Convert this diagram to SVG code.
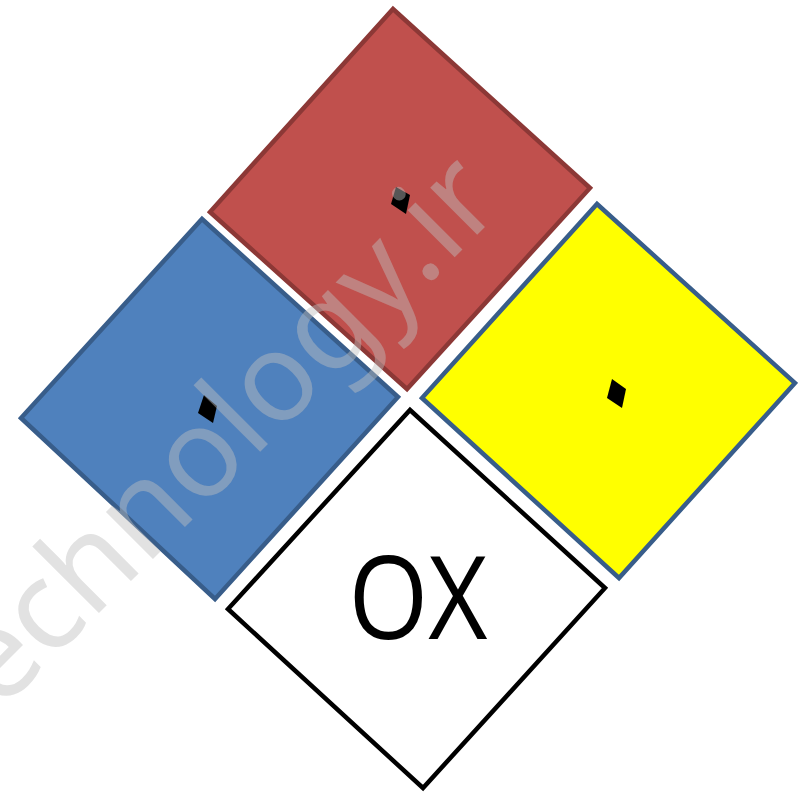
<svg xmlns="http://www.w3.org/2000/svg" width="798" height="796" viewBox="0 0 798 796">
<style>
.d{stroke-width:4.5;stroke-linejoin:miter}
.m{fill:#000}
.wm{font-family:"Noto Sans","Open Sans",sans-serif;font-size:124px;fill:#bfbfbf;fill-opacity:0.45}
.lbl{font-family:"Open Sans","Noto Sans",sans-serif;font-size:116px;fill:#000}
</style>
<rect width="798" height="796" fill="#fff"/>
<g id="red">
<polygon class="d" points="393,9 590,188 407,389 210,212" fill="#c0504d" stroke="#8c3836"/>
<polygon class="m" points="396,187 410,195 406,214 391,204"/>
</g>
<g id="blue">
<polygon class="d" points="202,219 398,397 215,599 21,418" fill="#4f81bd" stroke="#385d8a"/>
<polygon class="m" points="204,395 217,406 213,423 198,413"/>
</g>
<g id="yellow">
<polygon class="d" points="597,204 795,383 619,578 422,398" fill="#ffff00" stroke="#385d8a"/>
<polygon class="m" points="612,379 626,389 622,408 607,398"/>
</g>
<g id="white">
<polygon class="d" points="410,410 605,588 423,788 228,609" fill="#fff" stroke="#000"/>
<text class="lbl" x="418" y="639" text-anchor="middle" textLength="139" lengthAdjust="spacingAndGlyphs">OX</text>
</g>
<g id="connectors"/>
<text class="wm" transform="translate(506,206) rotate(-45)" text-anchor="end">technology.ir</text>
</svg>
